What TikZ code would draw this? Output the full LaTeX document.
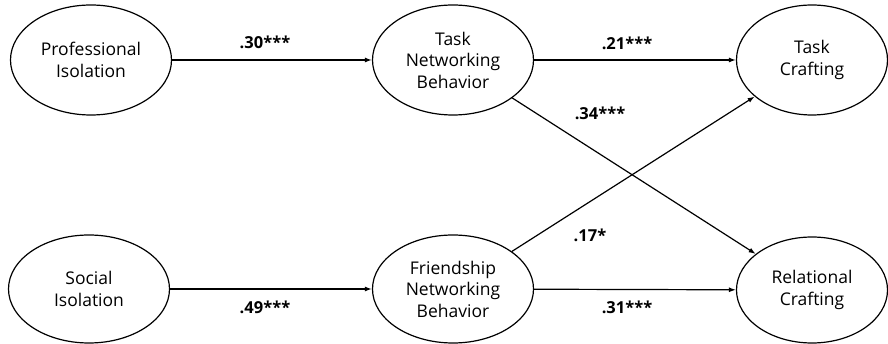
\documentclass[tikz,border=0pt]{standalone}
\usepackage{fontspec}
\setmainfont{Open Sans}
\usetikzlibrary{shapes.geometric,arrows.meta}
\begin{document}
\begin{tikzpicture}[x=1pt,y=-1pt,
  var/.style={draw,ellipse,line width=1.2pt,minimum width=161pt,minimum height=110pt,inner sep=0pt,align=center,font=\fontsize{17.5}{21.5}\selectfont},
  path/.style={line width=1.2pt,-{Latex[length=7pt,width=5pt]}},
  coef/.style={font=\fontsize{16.5}{19}\selectfont\bfseries}]
\useasboundingbox (0,0) rectangle (888,344);
\node[var] (pi) at (91,60) {Professional\\Isolation};
\node[var] (tnb) at (453,60) {Task\\Networking\\Behavior};
\node[var,minimum width=151pt] (tc) at (812,60) {Task\\Crafting};
\node[var,minimum height=108pt] (si) at (89,289) {Social\\Isolation};
\node[var,minimum height=108pt] (fnb) at (453,289) {Friendship\\Networking\\Behavior};
\node[var,minimum width=151pt,minimum height=106pt] (rc) at (812,290) {Relational\\Crafting};
\draw[path] (pi) -- (tnb);
\draw[path] (tnb) -- (tc);
\draw[path] (si) -- (fnb);
\draw[path] (fnb) -- (rc);
\draw[path] (tnb) -- (rc);
\draw[path] (fnb) -- (tc);
\node[coef] (l1) at (265,42) {.30***};
\node[coef] (l2) at (627,43) {.21***};
\node[coef] (l3) at (600,113) {.34***};
\node[coef] (l4) at (590,235) {.17*};
\node[coef] (l5) at (265,307) {.49***};
\node[coef] (l6) at (627,307) {.31***};
\end{tikzpicture}
\end{document}
